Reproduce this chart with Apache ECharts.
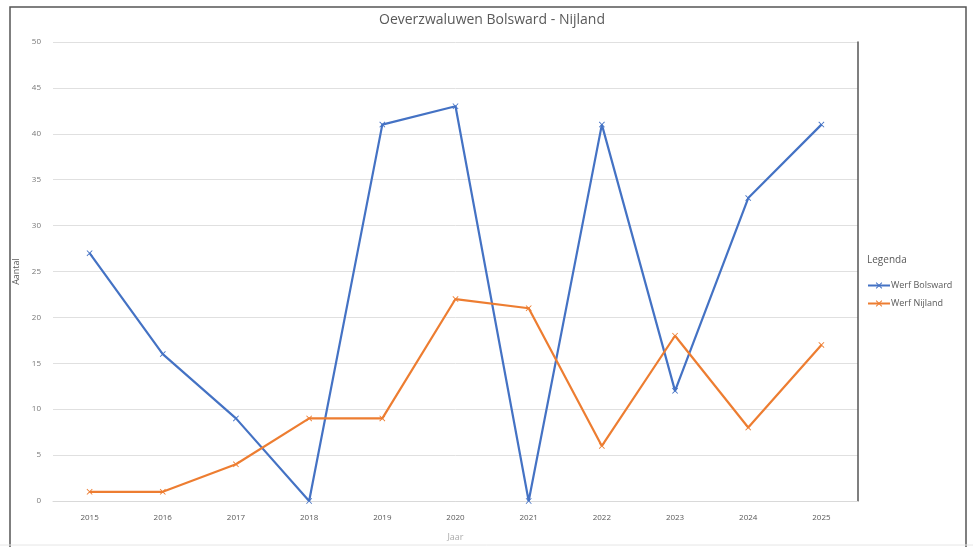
<!DOCTYPE html>
<html>
<head>
<meta charset="utf-8">
<script src="https://cdn.jsdelivr.net/npm/echarts@6/dist/echarts.min.js"></script>
<style>
html,body{margin:0;padding:0;background:#fff;}
#chart{width:973px;height:547px;}
</style>
</head>
<body>
<div id="chart"></div>
<script>
const years = ['2015','2016','2017','2018','2019','2020','2021','2022','2023','2024','2025'];
const bolsward = [27,16,9,0,41,43,0,41,12,33,41];
const nijland = [1,1,4,9,9,22,21,6,18,8,17];
const seriesNames = ['Werf Bolsward','Werf Nijland'];
const titleText = 'Oeverzwaluwen Bolsward - Nijland';

const xMark = 'path://M1,0L5,4L9,0L10,1L6,5L10,9L9,10L5,6L1,10L0,9L4,5L0,1Z';
const chart = echarts.init(document.getElementById('chart'));
const labelColor = '#595959';
chart.setOption({
  animation:false,
  backgroundColor:'#fff',
  title:[{
    text:titleText, left:487, top:8, textAlign:'center',
    textStyle:{fontFamily:'Open Sans, sans-serif', fontSize:14, fontWeight:'normal', color:labelColor}
  },{
    text:'Legenda', left:862, top:250,
    textStyle:{fontFamily:'Open Sans, sans-serif', fontSize:10, fontWeight:'normal', color:labelColor}
  }],
  graphic:[{
    type:'rect', shape:{x:10, y:7, width:956, height:560},
    style:{fill:'none', stroke:'#555', lineWidth:1.5}, silent:true
  },{
    type:'line', shape:{x1:0,y1:545,x2:973,y2:545},
    style:{stroke:'#e6e6e6', lineWidth:1}, silent:true
  }],
  legend:{
    orient:'vertical', left:862, top:276, itemGap:9, itemWidth:22, itemHeight:8,
    textStyle:{fontFamily:'Open Sans, sans-serif', fontSize:9, color:labelColor, padding:[0,0,0,-4]},
    data:seriesNames
  },
  grid:{left:53, right:115, top:42, bottom:40},
  xAxis:{
    type:'category', data:years, boundaryGap:true,
    name:'Jaar', nameLocation:'middle', nameGap:32,
    nameTextStyle:{fontFamily:'Open Sans, sans-serif', fontSize:9, color:'#aaa'},
    axisLine:{lineStyle:{color:'#d9d9d9'}},
    axisTick:{show:false},
    axisLabel:{fontFamily:'Open Sans, sans-serif', fontSize:8, color:labelColor, margin:13}
  },
  yAxis:[{
    type:'value', min:0, max:50, interval:5,
    name:'Aantal', nameLocation:'middle', nameGap:30, nameRotate:90,
    nameTextStyle:{fontFamily:'Open Sans, sans-serif', fontSize:9, color:labelColor},
    axisLine:{show:false}, axisTick:{show:false},
    splitLine:{lineStyle:{color:'#e0e0e0'}},
    axisLabel:{fontFamily:'Open Sans, sans-serif', fontSize:8, color:'#777', margin:12}
  },{
    type:'value', min:0, max:50, interval:5, position:'right',
    axisLine:{show:true, lineStyle:{color:'#555', width:1.5}},
    axisTick:{show:false}, axisLabel:{show:false}, splitLine:{show:false}
  }],
  series:[{
    name:seriesNames[0], type:'line', data:bolsward,
    symbol:xMark, symbolSize:6, showSymbol:true,
    lineStyle:{color:'#4472C4', width:2.2},
    itemStyle:{color:'#4472C4'}
  },{
    name:seriesNames[1], type:'line', data:nijland,
    symbol:xMark, symbolSize:6, showSymbol:true,
    lineStyle:{color:'#ED7D31', width:2.2},
    itemStyle:{color:'#ED7D31'}
  }]
});
</script>
</body>
</html>
